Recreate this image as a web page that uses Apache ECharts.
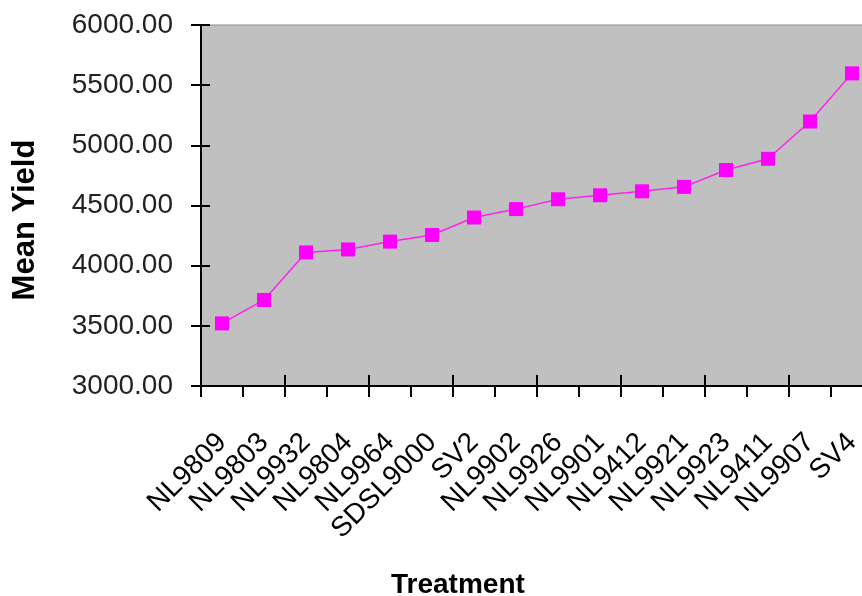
<!DOCTYPE html>
<html>
<head>
<meta charset="utf-8">
<script src="https://cdn.jsdelivr.net/npm/echarts@6/dist/echarts.min.js"></script>
<style>
html,body{margin:0;padding:0;background:#fff;overflow:hidden;width:862px;height:596px;}
#c{width:874px;height:596px;}
</style>
</head>
<body>
<div id="c"></div>
<script>
const categories = ['NL9809','NL9803','NL9932','NL9804','NL9964','SDSL9000','SV2','NL9902','NL9926','NL9901','NL9412','NL9921','NL9923','NL9411','NL9907','SV4'];
const meanYield = [3520, 3715, 4110, 4135, 4200, 4255, 4400, 4470, 4552, 4585, 4618, 4655, 4795, 4888, 5198, 5598];
const yTicks = {min: 3000, max: 6000, interval: 500};
const xTitle = 'Treatment';
const yTitle = 'Mean Yield';

const chart = echarts.init(document.getElementById('c'));
const font = 'Liberation Sans, Arial, sans-serif';
chart.setOption({
  animation: false,
  backgroundColor: '#ffffff',
  title: {
    text: xTitle,
    left: 386, top: 566,
    textStyle: {fontFamily: font, fontSize: 28, fontWeight: 'bold', color: '#000'}
  },
  graphic: [{
    type: 'text',
    x: 25, y: 220,
    rotation: Math.PI / 2,
    style: {
      text: yTitle,
      x: 0, y: 0,
      align: 'center', verticalAlign: 'middle',
      fontFamily: font, fontSize: 31, fontWeight: 'bold', fill: '#000'
    }
  }],
  grid: {
    left: 201, top: 25, width: 672, height: 361,
    show: true, backgroundColor: '#c0c0c0', borderColor: '#8c8c8c', borderWidth: 1
  },
  xAxis: [{
    type: 'category',
    data: categories,
    boundaryGap: true,
    axisLine: {lineStyle: {color: '#000', width: 2}},
    axisTick: {show: true, length: 11, lineStyle: {color: '#000', width: 2}},
    axisLabel: {rotate: 45, margin: 52, fontFamily: font, fontSize: 28, color: '#000', interval: 0},
    splitLine: {show: false}
  }, {
    type: 'category',
    data: categories,
    position: 'bottom',
    boundaryGap: true,
    axisLine: {show: false},
    axisTick: {show: true, inside: true, length: 11, lineStyle: {color: '#000', width: 2}},
    axisLabel: {show: false},
    splitLine: {show: false}
  }],
  yAxis: [{
    type: 'value',
    min: yTicks.min, max: yTicks.max, interval: yTicks.interval,
    axisLine: {show: true, lineStyle: {color: '#000', width: 2}},
    axisTick: {show: true, length: 10, lineStyle: {color: '#000', width: 2}},
    axisLabel: {fontFamily: font, fontSize: 28, color: '#222', margin: 28,
      formatter: v => v.toFixed(2)},
    splitLine: {show: false}
  }, {
    type: 'value',
    position: 'left',
    min: yTicks.min, max: yTicks.max, interval: yTicks.interval,
    axisLine: {show: false},
    axisTick: {show: true, inside: true, length: 9, lineStyle: {color: '#000', width: 2}},
    axisLabel: {show: false},
    splitLine: {show: false}
  }],
  series: [{
    type: 'line',
    data: meanYield,
    symbol: 'rect',
    symbolSize: 14,
    lineStyle: {color: '#ff22ee', width: 1.5},
    itemStyle: {color: '#ff00ff'},
    z: 5
  }]
});
</script>
</body>
</html>
